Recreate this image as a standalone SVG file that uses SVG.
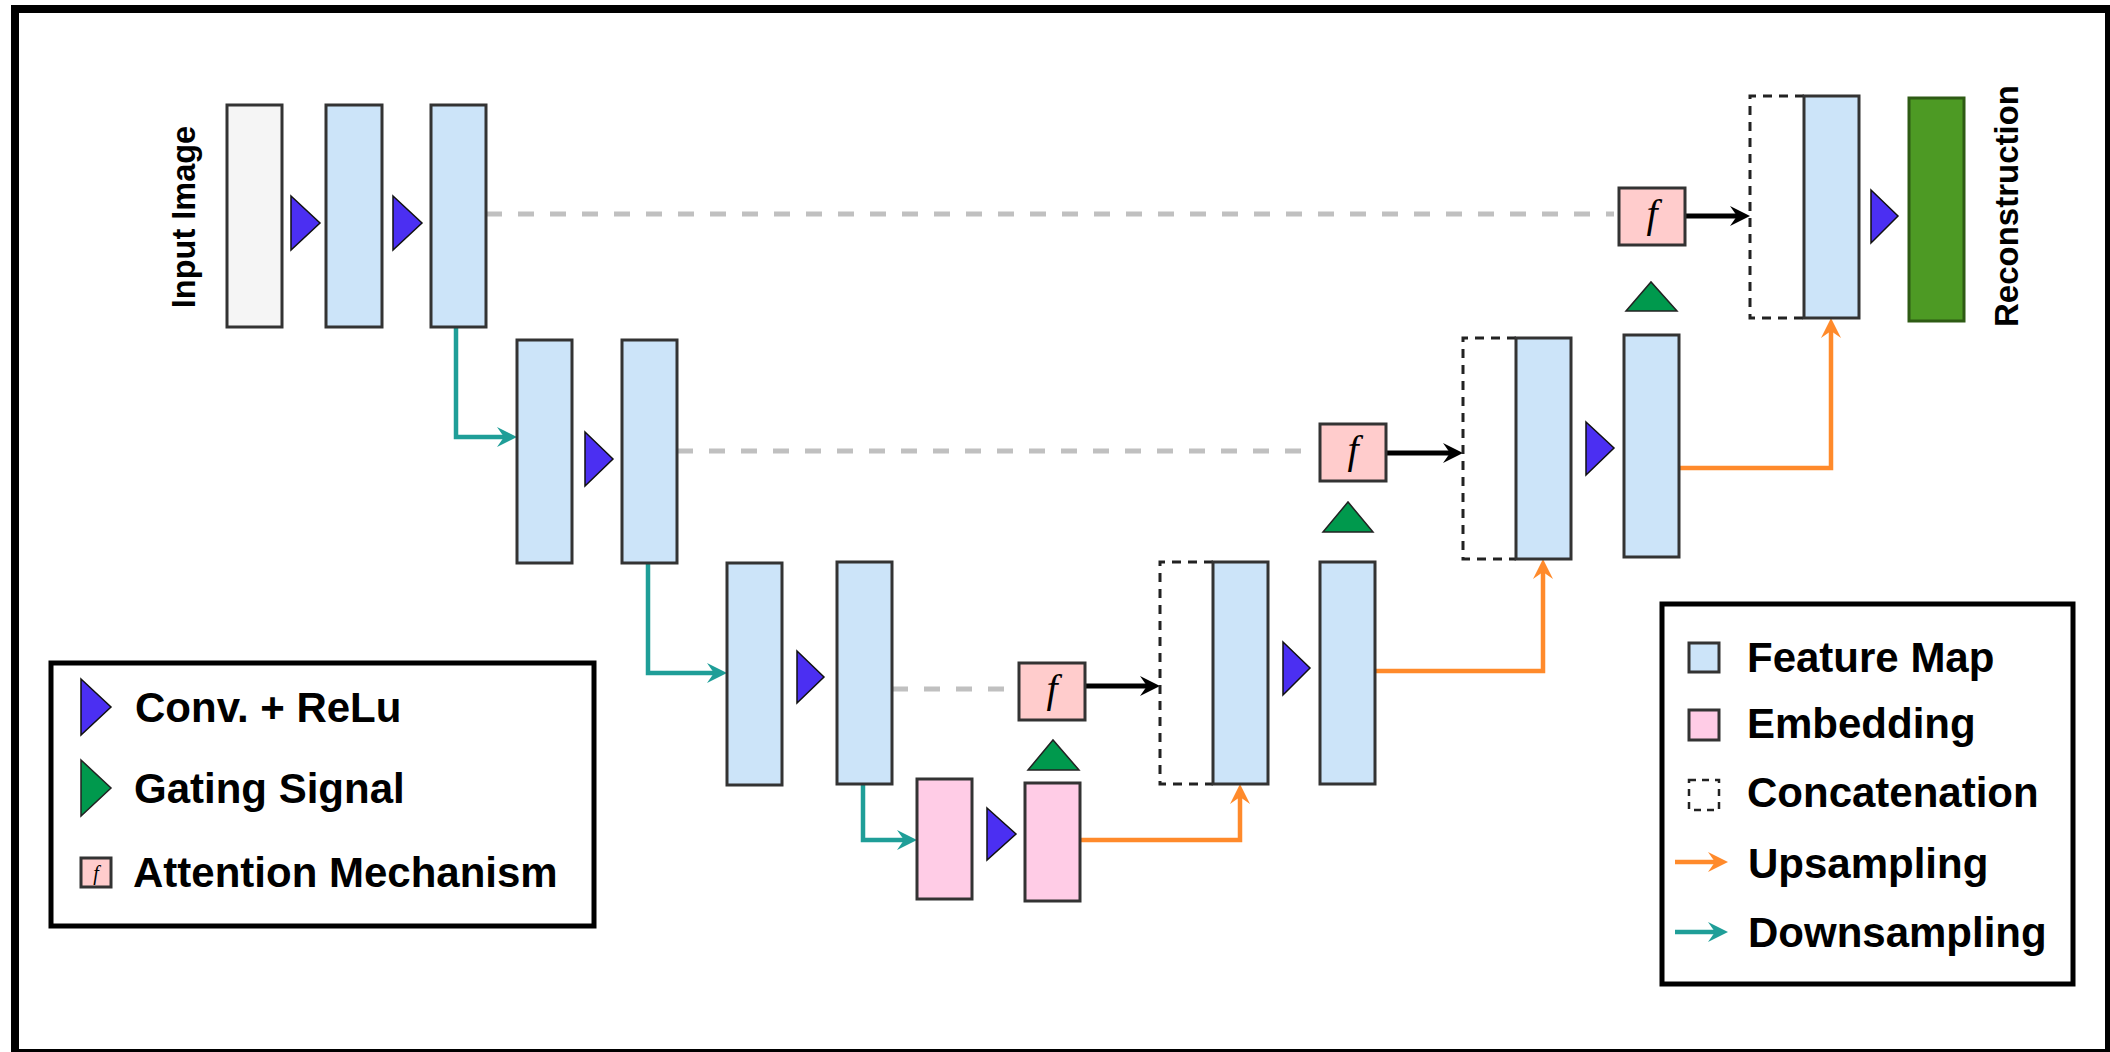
<svg xmlns="http://www.w3.org/2000/svg" width="2110" height="1052" viewBox="0 0 2110 1052">
<defs>
<style>
.fm{fill:#cce4f9;stroke:#333;stroke-width:3}
.emb{fill:#ffcce6;stroke:#333;stroke-width:3}
.inp{fill:#f5f5f5;stroke:#333;stroke-width:3}
.rec{fill:#4d9a24;stroke:#2e5b14;stroke-width:3}
.att{fill:#ffcccc;stroke:#333;stroke-width:3}
.conv{fill:#4b2ff2;stroke:#111;stroke-width:1.5}
.gate{fill:#00994d;stroke:#222;stroke-width:1.5}
.cat{fill:none;stroke:#222;stroke-width:3;stroke-dasharray:9 7}
.skip{fill:none;stroke:#c0c0c0;stroke-width:5;stroke-dasharray:16 16}
.down{fill:none;stroke:#1f9e98;stroke-width:4.5;marker-end:url(#mTeal)}
.up{fill:none;stroke:#ff8a2b;stroke-width:4.5;marker-end:url(#mOrange)}
.blk{fill:none;stroke:#000;stroke-width:5;marker-end:url(#mBlack)}
.lab{font-family:"Liberation Sans",Arial,sans-serif;font-weight:bold;fill:#000}
.fx{font-family:"Liberation Serif","Times New Roman",serif;font-style:italic;fill:#000;text-anchor:middle}
.frame{fill:none;stroke:#000}
</style>
<marker id="mTeal" markerUnits="userSpaceOnUse" markerWidth="20" markerHeight="20" refX="14" refY="10" orient="auto" viewBox="0 0 20 20"><path d="M0,0 L20,10 L0,20 L7,10 Z" fill="#1f9e98"/></marker>
<marker id="mOrange" markerUnits="userSpaceOnUse" markerWidth="20" markerHeight="20" refX="14" refY="10" orient="auto" viewBox="0 0 20 20"><path d="M0,0 L20,10 L0,20 L7,10 Z" fill="#ff8a2b"/></marker>
<marker id="mBlack" markerUnits="userSpaceOnUse" markerWidth="20" markerHeight="20" refX="14" refY="10" orient="auto" viewBox="0 0 20 20"><path d="M0,0 L20,10 L0,20 L7,10 Z" fill="#000"/></marker>
</defs>
<rect width="2110" height="1052" fill="#fff"/>
<rect class="frame" x="15" y="9" width="2094" height="1044" stroke-width="8"/>

<g id="connectors">
<path class="skip" d="M486,214 H1614"/>
<path class="skip" d="M677,451 H1305"/>
<path class="skip" d="M892,689 H1005"/>
<path class="down" d="M456,327 V437 H511"/>
<path class="down" d="M648,563 V673 H721"/>
<path class="down" d="M863,784 V840 H911"/>
<path class="up" d="M1080,840 H1240 V790"/>
<path class="up" d="M1375,671 H1543 V565"/>
<path class="up" d="M1678,468 H1831 V324"/>
<path class="blk" d="M1685,216 H1744"/>
<path class="blk" d="M1386,453 H1457"/>
<path class="blk" d="M1085,686 H1154"/>
</g>

<g id="input"><rect class="inp" x="227" y="105" width="55" height="222"/>
<text class="lab" font-size="32.5" text-anchor="middle" transform="translate(195,217) rotate(-90)">Input Image</text></g>
<g id="conv1"><polygon class="conv" points="291,196 320,223 291,250"/></g>
<g id="enc1a"><rect class="fm" x="326" y="105" width="56" height="222"/></g>
<g id="conv2"><polygon class="conv" points="393,196 422,223 393,250"/></g>
<g id="enc1b"><rect class="fm" x="431" y="105" width="55" height="222"/></g>

<g id="enc2a"><rect class="fm" x="517" y="340" width="55" height="223"/></g>
<g id="conv3"><polygon class="conv" points="585,432 613,459 585,486"/></g>
<g id="enc2b"><rect class="fm" x="622" y="340" width="55" height="223"/></g>

<g id="enc3a"><rect class="fm" x="727" y="563" width="55" height="222"/></g>
<g id="conv4"><polygon class="conv" points="797,651 824,677 797,703"/></g>
<g id="enc3b"><rect class="fm" x="837" y="562" width="55" height="222"/></g>

<g id="emb1"><rect class="emb" x="917" y="779" width="55" height="120"/></g>
<g id="conv5"><polygon class="conv" points="987,808 1016,834 987,860"/></g>
<g id="emb2"><rect class="emb" x="1025" y="783" width="55" height="118"/></g>
<g id="gate3"><polygon class="gate" points="1028,770 1053,740 1079,770"/></g>
<g id="att3"><rect class="att" x="1019" y="663" width="66" height="57"/><text class="fx" x="1052" y="702" font-size="40">f</text></g>

<g id="cat3"><path class="cat" d="M1213,562 H1160 V784 H1213"/></g>
<g id="dec3a"><rect class="fm" x="1213" y="562" width="55" height="222"/></g>
<g id="conv6"><polygon class="conv" points="1283,642 1310,668 1283,695"/></g>
<g id="dec3b"><rect class="fm" x="1320" y="562" width="55" height="222"/></g>
<g id="gate2"><polygon class="gate" points="1323,532 1348,502 1373,532"/></g>
<g id="att2"><rect class="att" x="1320" y="424" width="66" height="57"/><text class="fx" x="1353" y="463" font-size="40">f</text></g>

<g id="cat2"><path class="cat" d="M1516,338 H1463 V559 H1516"/></g>
<g id="dec2a"><rect class="fm" x="1516" y="338" width="55" height="221"/></g>
<g id="conv7"><polygon class="conv" points="1586,422 1614,448 1586,475"/></g>
<g id="dec2b"><rect class="fm" x="1624" y="335" width="55" height="222"/></g>
<g id="gate1"><polygon class="gate" points="1626,311 1651,282 1677,311"/></g>
<g id="att1"><rect class="att" x="1619" y="188" width="66" height="57"/><text class="fx" x="1652" y="227" font-size="40">f</text></g>

<g id="cat1"><path class="cat" d="M1804,96 H1750 V318 H1804"/></g>
<g id="dec1a"><rect class="fm" x="1804" y="96" width="55" height="222"/></g>
<g id="conv8"><polygon class="conv" points="1871,190 1898,216 1871,243"/></g>
<g id="output"><rect class="rec" x="1909" y="98" width="55" height="223"/>
<text class="lab" font-size="33" text-anchor="middle" transform="translate(2018,206) rotate(-90)">Reconstruction</text></g>

<g id="legend-left">
<rect x="51" y="663" width="543" height="263" fill="#fff" stroke="#000" stroke-width="5"/>
<polygon class="conv" points="81,679 111,707 81,735"/>
<text class="lab" x="135" y="722" font-size="42">Conv. + ReLu</text>
<polygon class="gate" points="81,760 111,788 81,816"/>
<text class="lab" x="134" y="803" font-size="42">Gating Signal</text>
<rect class="att" x="81" y="858" width="30" height="29" stroke-width="2"/>
<text class="fx" x="96" y="880" font-size="20">f</text>
<text class="lab" x="133" y="887" font-size="42">Attention Mechanism</text>
</g>

<g id="legend-right">
<rect x="1662" y="604" width="411" height="380" fill="#fff" stroke="#000" stroke-width="5"/>
<rect class="fm" x="1689" y="643" width="30" height="29"/>
<text class="lab" x="1747" y="672" font-size="42">Feature Map</text>
<rect class="emb" x="1689" y="710" width="30" height="30"/>
<text class="lab" x="1747" y="738" font-size="42">Embedding</text>
<rect x="1689" y="780" width="30" height="30" fill="none" stroke="#222" stroke-width="2.5" stroke-dasharray="7 6"/>
<text class="lab" x="1747" y="807" font-size="42">Concatenation</text>
<path class="up" d="M1675,862 H1722"/>
<text class="lab" x="1748" y="878" font-size="42">Upsampling</text>
<path class="down" d="M1675,932 H1722"/>
<text class="lab" x="1748" y="947" font-size="42">Downsampling</text>
</g>
</svg>
